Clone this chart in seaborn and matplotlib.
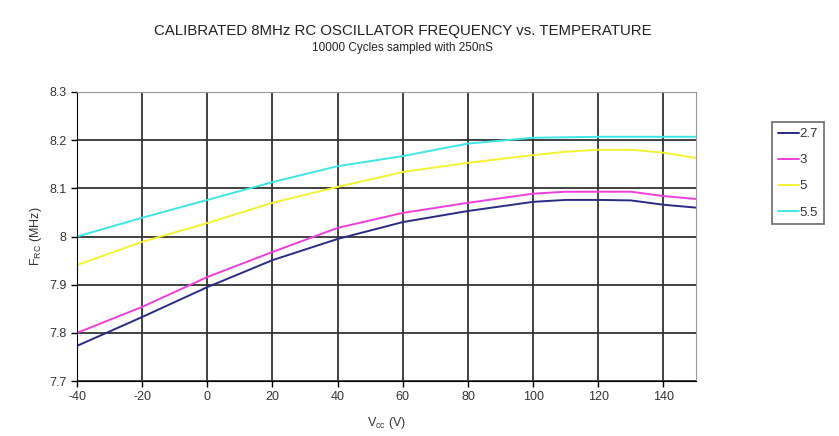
#!/usr/bin/env python
# RC oscillator frequency vs temperature, one line per supply voltage
import numpy as np
import pandas as pd
import matplotlib
matplotlib.use("Agg")
import matplotlib.pyplot as plt
import seaborn as sns

temps = [-40, -20, 0, 20, 40, 60, 80, 100, 110, 120, 130, 140, 150]
f_27 = [7.773, 7.833, 7.895, 7.951, 7.995, 8.030, 8.053, 8.072, 8.076, 8.076, 8.075, 8.066, 8.060]
f_3 = [7.800, 7.854, 7.916, 7.968, 8.018, 8.049, 8.070, 8.089, 8.093, 8.093, 8.093, 8.084, 8.078]
f_5 = [7.941, 7.989, 8.028, 8.070, 8.103, 8.134, 8.153, 8.169, 8.176, 8.180, 8.180, 8.174, 8.163]
f_55 = [8.000, 8.039, 8.076, 8.113, 8.146, 8.167, 8.193, 8.205, 8.206, 8.207, 8.207, 8.207, 8.207]
voltages = ["2.7", "3", "5", "5.5"]
colors = ["#2b2b86", "#ee3fdc", "#f4f232", "#3fe6e6"]

rows = []
for v, vals in zip(voltages, [f_27, f_3, f_5, f_55]):
    for t, f in zip(temps, vals):
        rows.append({"temp": t, "freq": f, "vcc": v})
df = pd.DataFrame(rows)

sns.set_style("white")
plt.rcParams['font.family'] = ['Liberation Sans', 'DejaVu Sans']
plt.rcParams['axes.unicode_minus'] = False

fig = plt.figure(figsize=(8.39, 4.36), dpi=100)
ax = fig.add_axes([0.0918, 0.126, 0.7378, 0.663])

sns.lineplot(data=df, x="temp", y="freq", hue="vcc", hue_order=voltages,
             palette=colors, linewidth=1.4, ax=ax, legend=True)

ax.set_xlim(-40, 150)
ax.set_ylim(7.7, 8.3)
ax.set_xticks(np.arange(-40, 150, 20))
ax.set_yticks(np.arange(7.7, 8.31, 0.1))
ax.set_yticklabels(["7.7", "7.8", "7.9", "8", "8.1", "8.2", "8.3"])
ax.grid(True, color="#333333", linewidth=1.3)
ax.set_axisbelow(True)
for s in ["top", "right"]:
    ax.spines[s].set_color("#999999")
for s in ["left", "bottom"]:
    ax.spines[s].set_color("black")
ax.tick_params(axis="both", direction="out", length=4, width=1, colors="black",
               labelsize=9, labelcolor="#333333", left=True, bottom=True)

ax.set_xlabel(r"V$_{\mathregular{cc}}$ (V)", fontsize=9, color="#333333", labelpad=8)
ax.set_ylabel(r"F$_{\mathregular{RC}}$ (MHz)", fontsize=9, color="#333333", labelpad=4)

fig.text(0.48, 0.93, "CALIBRATED 8MHz RC OSCILLATOR FREQUENCY vs. TEMPERATURE",
         ha="center", va="center", fontsize=10.8, color="#222222")
fig.text(0.48, 0.89, "10000 Cycles sampled with 250nS",
         ha="center", va="center", fontsize=8.5, color="#222222")

leg = ax.legend(loc="upper left", bbox_to_anchor=(1.123, 0.896), frameon=True,
                fancybox=False, edgecolor="#444444", fontsize=9.5,
                handlelength=1.6, handletextpad=0.0, borderpad=0.45,
                labelspacing=1.05, borderaxespad=0)
leg.get_frame().set_linewidth(1.2)
for t in leg.get_texts():
    t.set_color("#333333")

fig.savefig("out.png", dpi=100)
